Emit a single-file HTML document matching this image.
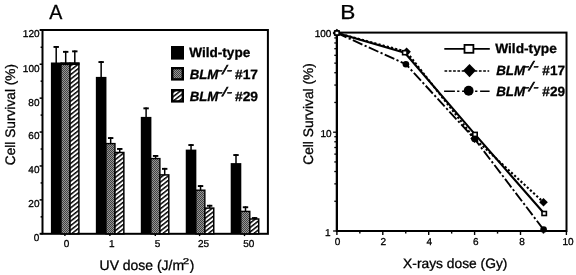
<!DOCTYPE html>
<html><head><meta charset="utf-8"><title>Cell survival: UV and X-ray dose response</title>
<style>html,body{margin:0;padding:0;background:#fff;overflow:hidden}svg{display:block}</style></head>
<body>
<svg width="576" height="275" viewBox="0 0 576 275" text-rendering="geometricPrecision"><defs>
<pattern id="chk" patternUnits="userSpaceOnUse" width="2" height="2"><rect width="2" height="2" fill="#969696"/><rect width="1" height="1" fill="#404040"/><rect x="1" y="1" width="1" height="1" fill="#404040"/></pattern>
<pattern id="hat" patternUnits="userSpaceOnUse" width="3.5" height="10" patternTransform="rotate(52)"><rect width="3.5" height="10" fill="#fff"/><rect width="1.5" height="10" fill="#000"/></pattern>
</defs>
<rect x="42.5" y="30" width="225.40" height="203.80" fill="none" stroke="#000" stroke-width="2"/>
<line x1="40.6" y1="216.84" x2="42.5" y2="216.84" stroke="#000" stroke-width="1.5"/>
<line x1="39.6" y1="199.88" x2="42.5" y2="199.88" stroke="#000" stroke-width="1.5"/>
<line x1="40.6" y1="182.93" x2="42.5" y2="182.93" stroke="#000" stroke-width="1.5"/>
<line x1="39.6" y1="165.97" x2="42.5" y2="165.97" stroke="#000" stroke-width="1.5"/>
<line x1="40.6" y1="149.01" x2="42.5" y2="149.01" stroke="#000" stroke-width="1.5"/>
<line x1="39.6" y1="132.05" x2="42.5" y2="132.05" stroke="#000" stroke-width="1.5"/>
<line x1="40.6" y1="115.09" x2="42.5" y2="115.09" stroke="#000" stroke-width="1.5"/>
<line x1="39.6" y1="98.14" x2="42.5" y2="98.14" stroke="#000" stroke-width="1.5"/>
<line x1="40.6" y1="81.18" x2="42.5" y2="81.18" stroke="#000" stroke-width="1.5"/>
<line x1="39.6" y1="64.22" x2="42.5" y2="64.22" stroke="#000" stroke-width="1.5"/>
<line x1="40.6" y1="47.26" x2="42.5" y2="47.26" stroke="#000" stroke-width="1.5"/>
<line x1="39.6" y1="30" x2="42.5" y2="30" stroke="#000" stroke-width="2"/>
<line x1="39.6" y1="233.8" x2="42.5" y2="233.8" stroke="#000" stroke-width="2"/>
<line x1="64.9" y1="233.8" x2="64.9" y2="236.10000000000002" stroke="#000" stroke-width="1.4"/>
<line x1="109.9" y1="233.8" x2="109.9" y2="236.10000000000002" stroke="#000" stroke-width="1.4"/>
<line x1="155.3" y1="233.8" x2="155.3" y2="236.10000000000002" stroke="#000" stroke-width="1.4"/>
<line x1="199.6" y1="233.8" x2="199.6" y2="236.10000000000002" stroke="#000" stroke-width="1.4"/>
<line x1="244.5" y1="233.8" x2="244.5" y2="236.10000000000002" stroke="#000" stroke-width="1.4"/>
<line x1="56.20" y1="46.00" x2="56.20" y2="63.50" stroke="#000" stroke-width="1.5"/>
<rect x="53.50" y="46.00" width="5.4" height="1.9" fill="#000"/>
<line x1="65.70" y1="50.90" x2="65.70" y2="63.50" stroke="#000" stroke-width="1.5"/>
<rect x="63.00" y="50.90" width="5.4" height="1.9" fill="#000"/>
<line x1="74.80" y1="50.40" x2="74.80" y2="63.50" stroke="#000" stroke-width="1.5"/>
<rect x="72.10" y="50.40" width="5.4" height="1.9" fill="#000"/>
<rect x="50.90" y="62.50" width="10.6" height="171.30" fill="#000"/>
<rect x="61.00" y="63.20" width="9.0" height="170.60" fill="url(#chk)" stroke="#000" stroke-width="1.4"/>
<rect x="70.00" y="63.20" width="8.9" height="170.60" fill="url(#hat)" stroke="#000" stroke-width="1.5"/>
<rect x="60.90" y="62.50" width="18.6" height="2.6" fill="#000"/>
<line x1="101.15" y1="61.10" x2="101.15" y2="77.90" stroke="#000" stroke-width="1.5"/>
<rect x="98.45" y="61.10" width="5.4" height="1.9" fill="#000"/>
<line x1="110.65" y1="137.10" x2="110.65" y2="143.90" stroke="#000" stroke-width="1.5"/>
<rect x="107.95" y="137.10" width="5.4" height="1.9" fill="#000"/>
<line x1="119.75" y1="148.00" x2="119.75" y2="152.80" stroke="#000" stroke-width="1.5"/>
<rect x="117.05" y="148.00" width="5.4" height="1.9" fill="#000"/>
<rect x="95.85" y="76.90" width="10.6" height="156.90" fill="#000"/>
<rect x="105.95" y="143.60" width="9.0" height="90.20" fill="url(#chk)" stroke="#000" stroke-width="1.4"/>
<rect x="114.95" y="152.50" width="8.9" height="81.30" fill="url(#hat)" stroke="#000" stroke-width="1.5"/>
<line x1="146.10" y1="107.40" x2="146.10" y2="117.90" stroke="#000" stroke-width="1.5"/>
<rect x="143.40" y="107.40" width="5.4" height="1.9" fill="#000"/>
<line x1="155.60" y1="155.00" x2="155.60" y2="158.90" stroke="#000" stroke-width="1.5"/>
<rect x="152.90" y="155.00" width="5.4" height="1.9" fill="#000"/>
<line x1="164.70" y1="167.90" x2="164.70" y2="175.20" stroke="#000" stroke-width="1.5"/>
<rect x="162.00" y="167.90" width="5.4" height="1.9" fill="#000"/>
<rect x="140.80" y="116.90" width="10.6" height="116.90" fill="#000"/>
<rect x="150.90" y="158.60" width="9.0" height="75.20" fill="url(#chk)" stroke="#000" stroke-width="1.4"/>
<rect x="159.90" y="174.90" width="8.9" height="58.90" fill="url(#hat)" stroke="#000" stroke-width="1.5"/>
<line x1="191.05" y1="144.10" x2="191.05" y2="150.60" stroke="#000" stroke-width="1.5"/>
<rect x="188.35" y="144.10" width="5.4" height="1.9" fill="#000"/>
<line x1="200.55" y1="185.10" x2="200.55" y2="190.50" stroke="#000" stroke-width="1.5"/>
<rect x="197.85" y="185.10" width="5.4" height="1.9" fill="#000"/>
<line x1="209.65" y1="204.80" x2="209.65" y2="208.40" stroke="#000" stroke-width="1.5"/>
<rect x="206.95" y="204.80" width="5.4" height="1.9" fill="#000"/>
<rect x="185.75" y="149.60" width="10.6" height="84.20" fill="#000"/>
<rect x="195.85" y="190.20" width="9.0" height="43.60" fill="url(#chk)" stroke="#000" stroke-width="1.4"/>
<rect x="204.85" y="208.10" width="8.9" height="25.70" fill="url(#hat)" stroke="#000" stroke-width="1.5"/>
<line x1="236.00" y1="154.10" x2="236.00" y2="164.10" stroke="#000" stroke-width="1.5"/>
<rect x="233.30" y="154.10" width="5.4" height="1.9" fill="#000"/>
<line x1="245.50" y1="206.30" x2="245.50" y2="211.70" stroke="#000" stroke-width="1.5"/>
<rect x="242.80" y="206.30" width="5.4" height="1.9" fill="#000"/>
<line x1="254.60" y1="217.10" x2="254.60" y2="219.30" stroke="#000" stroke-width="1.5"/>
<rect x="251.90" y="217.10" width="5.4" height="1.9" fill="#000"/>
<rect x="230.70" y="163.10" width="10.6" height="70.70" fill="#000"/>
<rect x="240.80" y="211.40" width="9.0" height="22.40" fill="url(#chk)" stroke="#000" stroke-width="1.4"/>
<rect x="249.80" y="219.00" width="8.9" height="14.80" fill="url(#hat)" stroke="#000" stroke-width="1.5"/>
<rect x="172.2" y="47.20" width="10.6" height="11.2" fill="#000" stroke="#000" stroke-width="2.4"/>
<rect x="172.2" y="68.20" width="10.6" height="11.2" fill="url(#chk)" stroke="#000" stroke-width="2.4"/>
<rect x="172.2" y="90.20" width="10.6" height="11.2" fill="url(#hat)" stroke="#000" stroke-width="2.4"/>
<rect x="336.9" y="32.6" width="229.60" height="198.40" fill="none" stroke="#000" stroke-width="2"/>
<line x1="336.9" y1="32.6" x2="336.9" y2="231" stroke="#000" stroke-width="2.2"/>
<line x1="336.9" y1="231" x2="566.5" y2="231" stroke="#000" stroke-width="2.2"/>
<line x1="333.10" y1="231.00" x2="336.9" y2="231.00" stroke="#000" stroke-width="1.3"/>
<line x1="334.30" y1="201.26" x2="336.9" y2="201.26" stroke="#000" stroke-width="1.3"/>
<line x1="334.30" y1="183.86" x2="336.9" y2="183.86" stroke="#000" stroke-width="1.3"/>
<line x1="334.30" y1="171.52" x2="336.9" y2="171.52" stroke="#000" stroke-width="1.3"/>
<line x1="334.30" y1="161.94" x2="336.9" y2="161.94" stroke="#000" stroke-width="1.3"/>
<line x1="334.30" y1="154.12" x2="336.9" y2="154.12" stroke="#000" stroke-width="1.3"/>
<line x1="334.30" y1="147.50" x2="336.9" y2="147.50" stroke="#000" stroke-width="1.3"/>
<line x1="334.30" y1="141.77" x2="336.9" y2="141.77" stroke="#000" stroke-width="1.3"/>
<line x1="334.30" y1="136.72" x2="336.9" y2="136.72" stroke="#000" stroke-width="1.3"/>
<line x1="333.10" y1="132.20" x2="336.9" y2="132.20" stroke="#000" stroke-width="1.3"/>
<line x1="334.30" y1="102.46" x2="336.9" y2="102.46" stroke="#000" stroke-width="1.3"/>
<line x1="334.30" y1="85.06" x2="336.9" y2="85.06" stroke="#000" stroke-width="1.3"/>
<line x1="334.30" y1="72.72" x2="336.9" y2="72.72" stroke="#000" stroke-width="1.3"/>
<line x1="334.30" y1="63.14" x2="336.9" y2="63.14" stroke="#000" stroke-width="1.3"/>
<line x1="334.30" y1="55.32" x2="336.9" y2="55.32" stroke="#000" stroke-width="1.3"/>
<line x1="334.30" y1="48.70" x2="336.9" y2="48.70" stroke="#000" stroke-width="1.3"/>
<line x1="334.30" y1="42.97" x2="336.9" y2="42.97" stroke="#000" stroke-width="1.3"/>
<line x1="334.30" y1="37.92" x2="336.9" y2="37.92" stroke="#000" stroke-width="1.3"/>
<line x1="333.10" y1="33.20" x2="336.9" y2="33.20" stroke="#000" stroke-width="1.3"/>
<line x1="336.90" y1="231" x2="336.90" y2="235.00" stroke="#000" stroke-width="1.4"/>
<line x1="359.85" y1="231" x2="359.85" y2="233.60" stroke="#000" stroke-width="1.4"/>
<line x1="382.80" y1="231" x2="382.80" y2="235.00" stroke="#000" stroke-width="1.4"/>
<line x1="405.75" y1="231" x2="405.75" y2="233.60" stroke="#000" stroke-width="1.4"/>
<line x1="428.70" y1="231" x2="428.70" y2="235.00" stroke="#000" stroke-width="1.4"/>
<line x1="451.65" y1="231" x2="451.65" y2="233.60" stroke="#000" stroke-width="1.4"/>
<line x1="474.60" y1="231" x2="474.60" y2="235.00" stroke="#000" stroke-width="1.4"/>
<line x1="497.55" y1="231" x2="497.55" y2="233.60" stroke="#000" stroke-width="1.4"/>
<line x1="520.50" y1="231" x2="520.50" y2="235.00" stroke="#000" stroke-width="1.4"/>
<line x1="543.45" y1="231" x2="543.45" y2="233.60" stroke="#000" stroke-width="1.4"/>
<line x1="566.40" y1="231" x2="566.40" y2="235.00" stroke="#000" stroke-width="1.4"/>
<polyline points="336.90,33.00 405.90,64.20 474.60,139.00 543.60,229.60" fill="none" stroke="#000" stroke-width="1.9" stroke-dasharray="10.5 2.4 2.2 2.4"/>
<polyline points="336.90,33.00 406.60,51.80 474.60,138.60 543.50,202.30" fill="none" stroke="#000" stroke-width="2.1" stroke-dasharray="2.2 2.1"/>
<polyline points="336.90,33.00 404.80,52.70 475.00,134.40 544.20,213.50" fill="none" stroke="#000" stroke-width="2.1"/>
<circle cx="336.90" cy="33.00" r="3.3" fill="#000"/>
<circle cx="405.90" cy="64.20" r="3.3" fill="#000"/>
<circle cx="474.60" cy="139.00" r="3.3" fill="#000"/>
<circle cx="543.60" cy="229.60" r="3.3" fill="#000"/>
<path d="M336.90,28.70 L341.20,33.00 L336.90,37.30 L332.60,33.00Z" fill="#000"/>
<path d="M406.60,47.50 L410.90,51.80 L406.60,56.10 L402.30,51.80Z" fill="#000"/>
<path d="M474.60,134.30 L478.90,138.60 L474.60,142.90 L470.30,138.60Z" fill="#000"/>
<path d="M543.50,198.00 L547.80,202.30 L543.50,206.60 L539.20,202.30Z" fill="#000"/>
<rect x="334.70" y="31.00" width="4.4" height="4.0" fill="#fff" stroke="#000" stroke-width="1.6"/>
<rect x="402.60" y="50.70" width="4.4" height="4.0" fill="#fff" stroke="#000" stroke-width="1.6"/>
<rect x="472.80" y="132.40" width="4.4" height="4.0" fill="#fff" stroke="#000" stroke-width="1.6"/>
<rect x="542.00" y="211.50" width="4.4" height="4.0" fill="#fff" stroke="#000" stroke-width="1.6"/>
<line x1="444.3" y1="48.8" x2="489.8" y2="48.8" stroke="#000" stroke-width="1.7"/>
<rect x="464.5" y="44.9" width="8.9" height="7.9" fill="#fff" stroke="#000" stroke-width="1.8"/>
<line x1="444.5" y1="70.9" x2="489.2" y2="70.9" stroke="#000" stroke-width="1.5" stroke-dasharray="2.7 1.6"/>
<path d="M469.5,63.9 L475.9,70.6 L469.5,77.3 L463.1,70.6Z" fill="#000"/>
<line x1="444.1" y1="91.3" x2="489.6" y2="91.3" stroke="#000" stroke-width="1.6" stroke-dasharray="10.8 2.2 2.3 2.7"/>
<circle cx="468.65" cy="90.75" r="4.95" fill="#000"/>
<g font-family="Liberation Sans, sans-serif" fill="#000" stroke="#000" stroke-width="0.3">
<text transform="translate(49.30,19.10) scale(0.9556,1)" font-size="20.5">A</text>
<text transform="translate(340.15,18.60) scale(1.1163,1)" font-size="20.3">B</text>
<text transform="translate(33.85,241.00)" font-size="10">0</text>
<text transform="translate(28.35,207.00)" font-size="10">20</text>
<text transform="translate(28.35,173.00)" font-size="10">40</text>
<text transform="translate(28.35,139.00)" font-size="10">60</text>
<text transform="translate(28.35,106.00)" font-size="10">80</text>
<text transform="translate(22.85,72.00)" font-size="10">100</text>
<text transform="translate(22.85,37.40)" font-size="10">120</text>
<text transform="translate(63.67,246.80)" font-size="10">0</text>
<text transform="translate(108.97,246.80)" font-size="10">1</text>
<text transform="translate(154.75,246.80)" font-size="10">5</text>
<text transform="translate(197.88,246.80)" font-size="10">25</text>
<text transform="translate(243.28,246.80)" font-size="10">50</text>
<text transform="translate(99.60,270.00) scale(0.9958,1)" font-size="14">UV dose (J/m</text>
<text transform="translate(182.71,264.20) scale(1.3867,1)" font-size="8.3">2</text>
<text transform="translate(189.76,270.00) scale(0.9714,1)" font-size="14">)</text>
<text transform="translate(14.50,165.25) rotate(-90) scale(0.9935,1)" font-size="13.8">Cell Survival (%)</text>
<text transform="translate(189.20,57.40)" font-size="13.6" font-weight="bold">Wild-type</text>
<text transform="translate(189.75,79.20) scale(0.9862,1)" font-size="13.4" font-weight="bold" font-style="italic">BLM</text>
<text transform="translate(217.27,73.90) scale(1.2465,1)" font-size="12.5" stroke-width="0.55" font-style="italic">-/-</text>
<text transform="translate(234.94,79.20) scale(1.0326,1)" font-size="13.4" font-weight="bold">#17</text>
<text transform="translate(189.75,101.00) scale(0.9862,1)" font-size="13.4" font-weight="bold" font-style="italic">BLM</text>
<text transform="translate(217.27,95.70) scale(1.2465,1)" font-size="12.5" stroke-width="0.55" font-style="italic">-/-</text>
<text transform="translate(234.94,101.00) scale(1.0326,1)" font-size="13.4" font-weight="bold">#29</text>
<text transform="translate(314.65,37.40)" font-size="10">100</text>
<text transform="translate(320.55,137.00)" font-size="10">10</text>
<text transform="translate(325.00,235.90)" font-size="10">1</text>
<text transform="translate(334.73,245.10)" font-size="10">0</text>
<text transform="translate(380.60,245.10)" font-size="10">2</text>
<text transform="translate(426.55,245.10)" font-size="10">4</text>
<text transform="translate(473.05,245.10)" font-size="10">6</text>
<text transform="translate(519.35,245.10)" font-size="10">8</text>
<text transform="translate(562.55,245.10)" font-size="10">10</text>
<text transform="translate(403.09,267.70) scale(1.0153,1)" font-size="13.6">X-rays dose (Gy)</text>
<text transform="translate(312.60,164.75) rotate(-90) scale(0.9955,1)" font-size="13.8">Cell Survival (%)</text>
<text transform="translate(495.20,52.80) scale(1.0099,1)" font-size="13.6" font-weight="bold">Wild-type</text>
<text transform="translate(496.15,75.00) scale(0.9966,1)" font-size="13.4" font-weight="bold" font-style="italic">BLM</text>
<text transform="translate(523.65,70.30) scale(1.2651,1)" font-size="12.5" stroke-width="0.55" font-style="italic">-/-</text>
<text transform="translate(542.35,75.00) scale(1.0140,1)" font-size="13.4" font-weight="bold">#17</text>
<text transform="translate(496.15,95.60) scale(0.9966,1)" font-size="13.4" font-weight="bold" font-style="italic">BLM</text>
<text transform="translate(523.65,90.90) scale(1.2651,1)" font-size="12.5" stroke-width="0.55" font-style="italic">-/-</text>
<text transform="translate(542.35,95.60) scale(1.0140,1)" font-size="13.4" font-weight="bold">#29</text>
</g></svg>
</body></html>
